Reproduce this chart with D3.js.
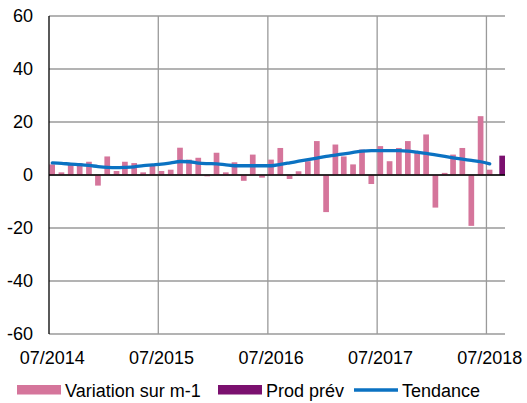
<!DOCTYPE html>
<html>
<head>
<meta charset="utf-8">
<script src="https://cdn.jsdelivr.net/npm/d3@7"></script>
<style>
  body { margin: 0; background: #fff; }
  text { font-family: "Liberation Sans", Arial, sans-serif; }
</style>
</head>
<body>
<div id="chart"></div>
<script>
// monthly data from 07/2014 to 07/2018
const startMonth = "2014-07"
const variation = [
  4, 1, 4, 4.5, 5, -4, 7, 1.5, 5, 4.5,
  1, 3.5, 1.5, 2, 10.3, 5.8, 6.5, -0.5, 8.4, 1,
  4.8, -2.2, 7.7, -1, 5.8, 10.2, -1.5, 1.4, 5.2, 12.8,
  -14, 11.5, 7, 4, 9.6, -3.4, 10.9, 5.2, 10.2, 12.8,
  8.6, 15.3, -12.3, 0.8, 7.7, 10.2, -19.2, 22.2, 2
]
const tendance = [
  4.6, 4.4, 4.1, 3.9, 3.6, 3.2, 2.9, 2.8, 2.9, 3.1,
  3.5, 3.8, 4.1, 4.6, 5.1, 5.0, 4.5, 4.3, 4.2, 3.8,
  3.5, 3.5, 3.5, 3.5, 3.5, 4.0, 4.6, 5.2, 5.8, 6.4,
  7.0, 7.5, 8.0, 8.5, 9.0, 9.2, 9.2, 9.2, 9.2, 9.0,
  8.6, 8.2, 7.6, 7.0, 6.5, 6.0, 5.5, 5.0, 4.2
]
const prodPrev = [{ month: "2018-08", value: 7.3 }]
const yTicks = [-60, -40, -20, 0, 20, 40, 60]
const xTickLabels = ["07/2014", "07/2015", "07/2016", "07/2017", "07/2018"]
const legendLabels = ["Variation sur m-1", "Prod prév", "Tendance"]

const COLORS = { pink: "#d5759b", purple: "#7b106f", blue: "#0b72c2", grid: "#9a9a9a" }

const W = 527, H = 403
const MARGIN = { TOP: 16, LEFT: 49, RIGHT: 22, BOTTOM: 69 }
const FONT = 18

const parseMonth = d3.timeParse("%Y-%m")
const parseLabel = d3.timeParse("%m/%Y")
const start = parseMonth(startMonth)
const months = variation.map((v, i) => d3.timeMonth.offset(start, i))

const svg = d3.select("#chart").append("svg")
  .attr("width", W)
  .attr("height", H)

const x = d3.scaleTime()
  .domain([start, d3.timeMonth.offset(start, 50)])
  .range([MARGIN.LEFT, W - MARGIN.RIGHT])

const y = d3.scaleLinear()
  .domain([-60, 60])
  .range([H - MARGIN.BOTTOM, MARGIN.TOP])

// offsets inside a month slot, via the time scale
const dayX = (date, days) => x(d3.timeDay.offset(date, days))

// horizontal gridlines
svg.append("g")
  .selectAll("line")
  .data(yTicks)
  .join("line")
  .attr("x1", x.range()[0])
  .attr("x2", x.range()[1])
  .attr("y1", d => y(d))
  .attr("y2", d => y(d))
  .attr("stroke", COLORS.grid)
  .attr("stroke-width", 1.3)

// vertical gridlines (yearly)
const yearDates = xTickLabels.map(parseLabel)
svg.append("g")
  .selectAll("line")
  .data(yearDates.slice(1))
  .join("line")
  .attr("x1", d => x(d))
  .attr("x2", d => x(d))
  .attr("y1", y(60))
  .attr("y2", y(-60))
  .attr("stroke", COLORS.grid)
  .attr("stroke-width", 1.3)

// bars - variation
svg.append("g")
  .selectAll("rect")
  .data(variation.map((v, i) => ({ date: months[i], value: v })))
  .join("rect")
  .attr("x", d => dayX(d.date, 1))
  .attr("width", d => dayX(d.date, 20) - dayX(d.date, 1))
  .attr("y", d => y(Math.max(0, d.value)))
  .attr("height", d => Math.abs(y(d.value) - y(0)))
  .attr("fill", COLORS.pink)

// bars - prod prev
svg.append("g")
  .selectAll("rect")
  .data(prodPrev.map(d => ({ date: parseMonth(d.month), value: d.value })))
  .join("rect")
  .attr("x", d => dayX(d.date, 12))
  .attr("width", d => dayX(d.date, 31) - dayX(d.date, 12))
  .attr("y", d => y(Math.max(0, d.value)))
  .attr("height", d => Math.abs(y(d.value) - y(0)))
  .attr("fill", COLORS.purple)

// zero line + left axis
svg.append("line")
  .attr("x1", x.range()[0]).attr("x2", x.range()[1])
  .attr("y1", y(0)).attr("y2", y(0))
  .attr("stroke", "#000").attr("stroke-width", 1.3)
svg.append("line")
  .attr("x1", x.range()[0]).attr("x2", x.range()[0])
  .attr("y1", y(60)).attr("y2", y(-60))
  .attr("stroke", "#000").attr("stroke-width", 1.3)

// trend line
const line = d3.line()
  .x((d, i) => dayX(months[i], 11))
  .y(d => y(d))
  .curve(d3.curveMonotoneX)

svg.append("path")
  .datum(tendance)
  .attr("d", line)
  .attr("fill", "none")
  .attr("stroke", COLORS.blue)
  .attr("stroke-width", 3.3)
  .attr("stroke-linecap", "round")

// y labels
svg.append("g")
  .selectAll("text")
  .data(yTicks)
  .join("text")
  .attr("x", 33)
  .attr("y", d => y(d) + 6)
  .attr("text-anchor", "end")
  .attr("font-size", FONT)
  .attr("fill", "#000")
  .text(d => d)

// x labels
svg.append("g")
  .selectAll("text")
  .data(xTickLabels)
  .join("text")
  .attr("x", d => dayX(parseLabel(d), 11))
  .attr("y", 364)
  .attr("text-anchor", "middle")
  .attr("font-size", FONT)
  .attr("fill", "#000")
  .text(d => d)

// legend
const legend = svg.append("g").attr("transform", "translate(0, 390)")
const items = [
  { label: legendLabels[0], color: COLORS.pink, type: "rect", x: 17 },
  { label: legendLabels[1], color: COLORS.purple, type: "rect", x: 218 },
  { label: legendLabels[2], color: COLORS.blue, type: "line", x: 354 }
]
items.forEach(it => {
  if (it.type === "rect") {
    legend.append("rect")
      .attr("x", it.x).attr("y", -5)
      .attr("width", 44).attr("height", 9.5)
      .attr("fill", it.color)
  } else {
    legend.append("line")
      .attr("x1", it.x).attr("x2", it.x + 44)
      .attr("y1", 0).attr("y2", 0)
      .attr("stroke", it.color).attr("stroke-width", 3.3)
  }
  legend.append("text")
    .attr("x", it.x + 48)
    .attr("y", 6.5)
    .attr("font-size", FONT)
    .attr("fill", "#000")
    .text(it.label)
})
</script>
</body>
</html>
